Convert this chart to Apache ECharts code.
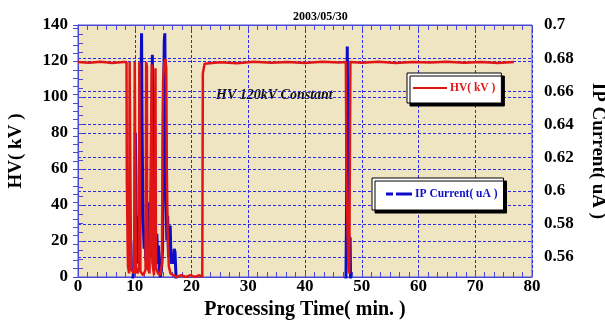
<!DOCTYPE html>
<html>
<head>
<meta charset="utf-8">
<script src="https://cdn.jsdelivr.net/npm/echarts@6/dist/echarts.min.js"></script>
<style>
  html, body { margin: 0; padding: 0; background: #fff; }
  #chart { width: 605px; height: 320px; }
</style>
</head>
<body>
<div id="chart"></div>
<script>
// HV (kV) trace – time in minutes
const hvTime = [
  0, 2, 4, 6, 8, 8.55, 8.6, 8.7, 8.8, 9.0, 9.1, 9.3, 9.35, 9.6, 9.9,
  10.0, 10.15, 10.2, 10.5, 10.75, 10.8, 10.95, 11.0, 11.5, 11.9, 12.0, 12.15, 12.2,
  12.6, 12.9, 13.0, 13.1, 13.4, 13.65, 13.75, 14.1, 14.5, 14.8, 14.9, 15.0, 15.2,
  15.4, 15.55, 15.65, 15.8, 16.0, 16.3, 16.8, 17.4, 18.2, 19.0, 19.8, 20.6, 21.4,
  21.9, 22.0, 22.3, 25, 28, 31, 34, 37, 40, 43, 46, 47.2, 47.3, 47.5, 47.65,
  47.8, 47.9, 48.0, 50, 53, 56, 59, 62, 65, 68, 71, 74, 76.8,
];
const hvKV = [
  119.5, 119, 119.6, 118.9, 119.5, 119.5, 54, 54, 6, 2, 119.5, 119.5, 4, 3, 2,
  119.5, 119.5, 5, 2, 6, 119.5, 119.5, 3, 1, 4, 119.5, 117, 6,
  2, 3, 118, 8, 1, 116, 5, 2, 1, 8, 85, 110, 119,
  121, 116, 60, 25, 6, 2, 1, 0, 1, 0, 1, 0, 1,
  0, 113, 118.5, 119.3, 118.8, 119.6, 119, 119.5, 118.9, 119.6, 119.2, 119.5, 60, 25, 5,
  2, 3, 119.5, 119, 119.6, 118.9, 119.5, 119.2, 119.6, 119, 119.4, 118.9, 119.5,
];

// IP current (uA) trace – values below 0.548 sit under the axis floor
const ipTime = [
  0, 9.5, 9.8, 9.9, 10.0, 10.1, 10.2, 10.3, 10.4, 10.55, 10.7, 10.85, 11.0, 11.1,
  11.2, 11.3, 11.4, 11.5, 11.65, 11.8, 11.95, 12.1, 12.25, 12.4, 12.5, 12.6, 12.75,
  12.9, 13.0, 13.1, 13.2, 13.3, 13.45, 13.6, 13.75, 13.9, 14.05, 14.2, 14.35, 14.5,
  14.7, 14.9, 15.0, 15.1, 15.2, 15.3, 15.4, 15.5, 15.65, 15.8, 15.95, 16.1, 16.25,
  16.4, 16.6, 16.8, 16.95, 17.1, 17.25, 17.4,
  47.2, 47.3, 47.4, 47.45, 47.5, 47.55, 47.65, 47.75, 47.85, 47.95, 48.05, 77,
];
const ipUA = [
  0.54, 0.54, 0.552, 0.57, 0.556, 0.635, 0.61, 0.558, 0.575, 0.556, 0.585, 0.56, 0.6, 0.66,
  0.695, 0.64, 0.6, 0.58, 0.565, 0.572, 0.558, 0.568, 0.556, 0.575, 0.593, 0.57, 0.58,
  0.56, 0.62, 0.682, 0.6, 0.585, 0.562, 0.579, 0.558, 0.574, 0.556, 0.567, 0.552, 0.548,
  0.552, 0.565, 0.6, 0.66, 0.69, 0.695, 0.65, 0.6, 0.57, 0.585, 0.56, 0.575, 0.579,
  0.556, 0.56, 0.556, 0.565, 0.563, 0.55, 0.54,
  0.54, 0.58, 0.65, 0.687, 0.66, 0.6, 0.575, 0.572, 0.565, 0.572, 0.54, 0.54,
];

// right axis: 0.7 at the top edge, ~0.548 at the bottom edge
const IP_MIN = 0.548;
const IP_MAX = 0.7;
const IP_LABEL_FLOOR = 0.54; // multiple of the 0.02 label step

const FONT = "Liberation Serif";
const GRID_BLUE = "#2a2af0";
const BORDER_BLUE = "#4a4ad8";

const PLOT = { left: 78, right: 73, top: 25, bottom: 43 };
const plotH = 320 - PLOT.top - PLOT.bottom;
// second (label-only) grid stretched so that IP_LABEL_FLOOR lands below the plot
const labelGridH = plotH * (IP_MAX - IP_LABEL_FLOOR) / (IP_MAX - IP_MIN);

const chart = echarts.init(document.getElementById("chart"));

const labelFont = { color: "#000", fontFamily: FONT, fontWeight: "bold", fontSize: 17 };
const gridDash = { color: GRID_BLUE, width: 1, type: [3, 2] };

chart.setOption({
  backgroundColor: "#fff",
  animation: false,
  title: {
    text: "2003/05/30",
    left: 288,
    top: 6,
    textStyle: { fontFamily: FONT, fontWeight: "bold", fontSize: 12, color: "#000" },
  },
  grid: [
    {
      ...PLOT,
      outerBoundsMode: "none",
      containLabel: false,
      show: true,
      backgroundColor: "#efe5c3",
      borderColor: BORDER_BLUE,
      borderWidth: 1,
    },
    {
      left: PLOT.left, right: PLOT.right, top: PLOT.top, height: labelGridH,
      outerBoundsMode: "none",
      containLabel: false,
      show: false,
    },
  ],
  legend: [
    {
      data: [{ name: "HV( kV )", icon: "path://M0,0h34v2h-34z" }],
      left: 407, top: 73,
      orient: "vertical",
      padding: [9, 6, 9, 6],
      itemWidth: 34, itemHeight: 2, itemGap: 4,
      backgroundColor: "#fff",
      borderColor: "#000", borderWidth: 1,
      shadowColor: "#000", shadowOffsetX: 3, shadowOffsetY: 3, shadowBlur: 0,
      selectedMode: false,
      textStyle: { color: "#e01616", fontFamily: FONT, fontWeight: "bold", fontSize: 11.5, padding: [0, 0, 0, -2] },
    },
    {
      data: [{ name: "IP Current( uA )", icon: "path://M0,0h7v3h-7z M10,0h16v3h-16z" }],
      left: 372, top: 178,
      orient: "vertical",
      padding: [10, 6, 10, 14],
      itemWidth: 26, itemHeight: 3, itemGap: 4,
      backgroundColor: "#fff",
      borderColor: "#000", borderWidth: 1,
      shadowColor: "#000", shadowOffsetX: 3, shadowOffsetY: 3, shadowBlur: 0,
      selectedMode: false,
      textStyle: { color: "#1010c8", fontFamily: FONT, fontWeight: "bold", fontSize: 11.5, padding: [0, 0, 0, -2] },
    },
  ],
  graphic: [
    {
      type: "text",
      left: 216, top: 88,
      style: {
        text: "HV 120kV Constant",
        fill: "#111",
        font: "italic bold 14px '" + FONT + "'",
      },
    },
  ],
  xAxis: [
    {
      type: "value",
      gridIndex: 0,
      min: 0, max: 80, interval: 10,
      position: "bottom",
      name: "Processing Time( min. )",
      nameLocation: "middle",
      nameGap: 19,
      nameTextStyle: { color: "#000", fontFamily: FONT, fontWeight: "bold", fontSize: 20 },
      axisLine: { show: true, lineStyle: { color: BORDER_BLUE } },
      axisTick: { inside: true, length: 5, lineStyle: { color: BORDER_BLUE } },
      minorTick: { show: true, splitNumber: 6, length: 5, lineStyle: { color: BORDER_BLUE } },
      splitLine: { show: true, lineStyle: gridDash },
      axisLabel: { ...labelFont, margin: 1 },
    },
    {
      type: "value",
      gridIndex: 0,
      min: 0, max: 80, interval: 10,
      position: "top",
      axisLine: { show: true, lineStyle: { color: BORDER_BLUE } },
      axisTick: { inside: true, length: 5, lineStyle: { color: BORDER_BLUE } },
      minorTick: { show: true, splitNumber: 6, length: 5, lineStyle: { color: BORDER_BLUE } },
      splitLine: { show: false },
      axisLabel: { show: false },
    },
    {
      type: "value",
      gridIndex: 1,
      min: 0, max: 80,
      show: false,
    },
  ],
  yAxis: [
    {
      type: "value",
      gridIndex: 0,
      min: 0, max: 140, interval: 20,
      position: "left",
      name: "HV( kV )",
      nameLocation: "middle",
      nameGap: 52,
      nameTextStyle: { color: "#000", fontFamily: FONT, fontWeight: "bold", fontSize: 19 },
      axisLine: { show: true, lineStyle: { color: BORDER_BLUE } },
      axisTick: { inside: true, length: 5, lineStyle: { color: BORDER_BLUE } },
      minorTick: { show: true, splitNumber: 4, length: 5, lineStyle: { color: BORDER_BLUE } },
      splitLine: { show: true, lineStyle: gridDash },
      axisLabel: { ...labelFont, margin: 10 },
    },
    {
      // IP data axis (plot grid), ticks only
      type: "value",
      gridIndex: 0,
      min: IP_MIN, max: IP_MAX, interval: 0.005,
      position: "right",
      name: "IP Current( uA )",
      nameLocation: "middle",
      nameRotate: -90,
      nameGap: 56,
      nameTextStyle: { color: "#000", fontFamily: FONT, fontWeight: "bold", fontSize: 19 },
      axisLine: { show: true, lineStyle: { color: BORDER_BLUE } },
      axisTick: { inside: true, length: 5, lineStyle: { color: BORDER_BLUE } },
      splitLine: { show: false },
      axisLabel: { show: false },
    },
    {
      // IP labels + grid lines (stretched grid)
      type: "value",
      gridIndex: 1,
      min: IP_LABEL_FLOOR, max: IP_MAX, interval: 0.02,
      position: "right",
      axisLine: { show: false },
      axisTick: { show: false },
      splitLine: { show: true, showMinLine: false, showMaxLine: false, lineStyle: gridDash },
      axisLabel: { ...labelFont, margin: 12, showMinLabel: false },
    },
  ],
  series: [
    {
      name: "IP Current( uA )",
      type: "line",
      xAxisIndex: 0,
      yAxisIndex: 1,
      showSymbol: false,
      symbol: "none",
      color: "#0c0cc8",
      lineStyle: { width: 3, color: "#0c0cc8" },
      data: ipTime.map((t, i) => [t, ipUA[i]]),
    },
    {
      name: "HV( kV )",
      type: "line",
      xAxisIndex: 0,
      yAxisIndex: 0,
      showSymbol: false,
      symbol: "none",
      color: "#e01616",
      lineStyle: { width: 2.5, color: "#e01616" },
      data: hvTime.map((t, i) => [t, hvKV[i]]),
    },
  ],
});

window.addEventListener("resize", () => chart.resize());
</script>
</body>
</html>
